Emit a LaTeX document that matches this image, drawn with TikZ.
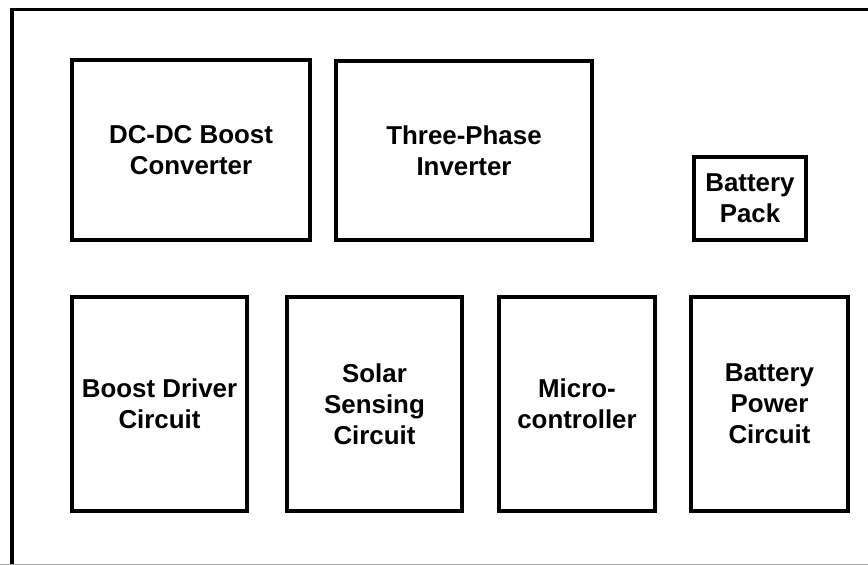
\documentclass[tikz,border=0pt]{standalone}
\usepackage{fontspec}
\setmainfont{Liberation Sans}
\usepackage{xcolor}
\usepackage{tikz}
\usetikzlibrary{positioning}

\begin{document}
\begin{tikzpicture}[
  x=0.025cm,y=-0.025cm,
  blk/.style={draw,line width=2.6pt,inner sep=2pt,align=center,
    font=\bfseries\fontsize{18.4pt}{21.9pt}\selectfont},
  frm/.style={line width=2.6pt}]
\useasboundingbox (0,0) rectangle (868,565);
% enclosure
\coordinate (fbl) at (12,566);
\coordinate (ftl) at (12,9.5);
\coordinate (ftr) at (869,9.5);
\draw[frm] (fbl) -- (ftl) -- (ftr);
\coordinate (gl) at (0,564);
\coordinate (gr) at (868,564);
\draw[gray!70,line width=0.6pt] (gl) -- (gr);
% upper row
\node[blk,minimum width=5.95cm,minimum height=4.5cm] (dcdc) at (191,150) {DC-DC Boost\\Converter};
\node[blk,minimum width=6.4cm,minimum height=4.475cm] (inv) at (464,150.5) {Three-Phase\\Inverter};
\node[blk,minimum width=2.8cm,minimum height=2.075cm] (pack) at (750,198.5) {Battery\\Pack};
% lower row
\node[blk,minimum width=4.375cm,minimum height=5.35cm] (bdrv) at (159.5,404) {Boost Driver\\Circuit};
\node[blk,minimum width=4.375cm,minimum height=5.35cm] (solar) at (374.5,404) {Solar\\Sensing\\Circuit};
\node[blk,minimum width=3.9cm,minimum height=5.35cm] (mcu) at (577,404) {Micro-\\controller};
\node[blk,minimum width=3.925cm,minimum height=5.35cm] (bpwr) at (769.5,404) {Battery\\Power\\Circuit};
\end{tikzpicture}
\end{document}
